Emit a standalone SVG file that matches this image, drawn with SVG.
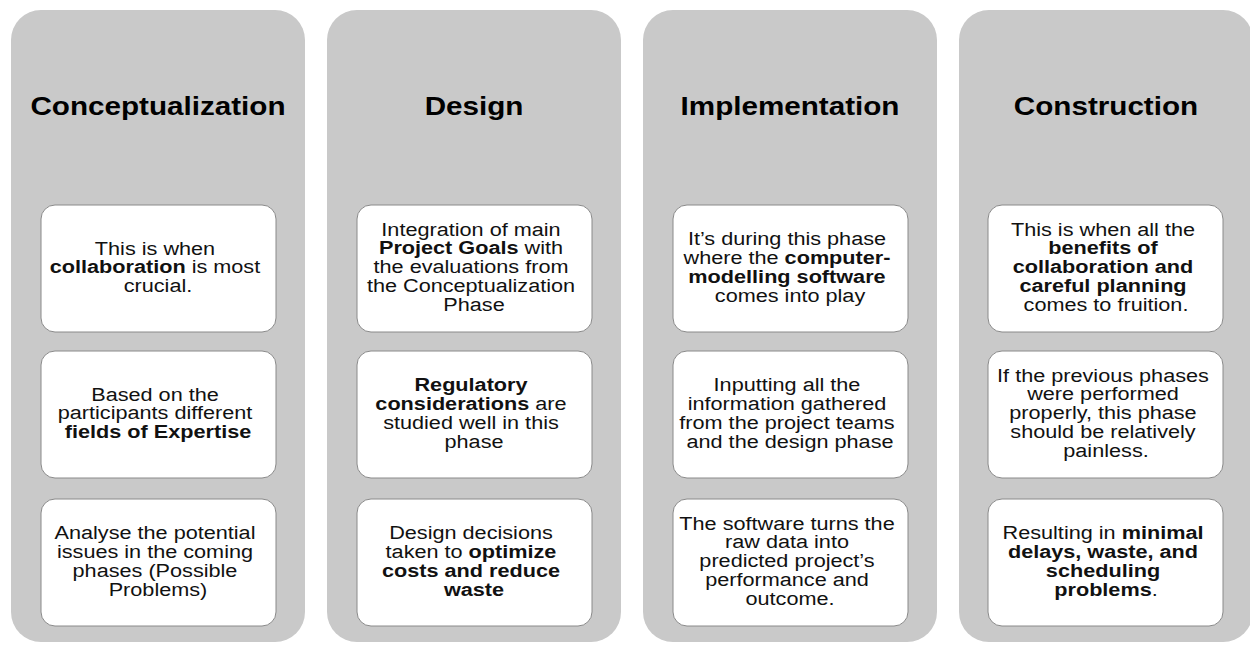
<svg xmlns="http://www.w3.org/2000/svg" width="1250" height="649" viewBox="0 0 1250 649">
  <style>
    .col { fill: #c9c9c9; }
    .card { fill: #ffffff; stroke: #8a8a8a; stroke-width: 1; }
    .title { font-family: "Liberation Sans", Arial, sans-serif; font-weight: bold; font-size: 26px; fill: #000; text-anchor: middle; }
    .body { font-family: "Liberation Sans", Arial, sans-serif; font-size: 19px; fill: #111; text-anchor: middle; }
    .b { font-weight: bold; }
  </style>
  <rect width="1250" height="649" fill="#ffffff"/>

  <!-- Phase 1 -->
  <g id="conceptualization">
    <rect class="col" x="11" y="10" width="294" height="632" rx="30"/>
    <text class="title" transform="translate(158,114.5) scale(1.14,1)">Conceptualization</text>
    <g id="conceptualization-1">
      <rect class="card" x="41" y="205" width="235" height="127" rx="14"/>
      <text class="body" transform="translate(158,254.5) scale(1.14,1)">
        <tspan x="0" dy="0">This is when</tspan>
        <tspan x="0" dy="19"><tspan class="b">collaboration</tspan> is most</tspan>
        <tspan x="0" dy="19">crucial.</tspan>
      </text>
    </g>
    <g id="conceptualization-2">
      <rect class="card" x="41" y="351" width="235" height="127" rx="14"/>
      <text class="body" transform="translate(158,400.5) scale(1.14,1)">
        <tspan x="0" dy="0">Based on the</tspan>
        <tspan x="0" dy="19">participants different</tspan>
        <tspan x="0" dy="19" class="b">fields of Expertise</tspan>
      </text>
    </g>
    <g id="conceptualization-3">
      <rect class="card" x="41" y="499" width="235" height="127" rx="14"/>
      <text class="body" transform="translate(158,539) scale(1.14,1)">
        <tspan x="0" dy="0">Analyse the potential</tspan>
        <tspan x="0" dy="19">issues in the coming</tspan>
        <tspan x="0" dy="19">phases (Possible</tspan>
        <tspan x="0" dy="19">Problems)</tspan>
      </text>
    </g>
  </g>

  <!-- Phase 2 -->
  <g id="design">
    <rect class="col" x="327" y="10" width="294" height="632" rx="30"/>
    <text class="title" transform="translate(474,114.5) scale(1.14,1)">Design</text>
    <g id="design-1">
      <rect class="card" x="357" y="205" width="235" height="127" rx="14"/>
      <text class="body" transform="translate(474,235.5) scale(1.14,1)">
        <tspan x="0" dy="0">Integration of main</tspan>
        <tspan x="0" dy="19"><tspan class="b">Project Goals</tspan> with</tspan>
        <tspan x="0" dy="19">the evaluations from</tspan>
        <tspan x="0" dy="19">the Conceptualization</tspan>
        <tspan x="0" dy="19">Phase</tspan>
      </text>
    </g>
    <g id="design-2">
      <rect class="card" x="357" y="351" width="235" height="127" rx="14"/>
      <text class="body" transform="translate(474,391) scale(1.14,1)">
        <tspan x="0" dy="0" class="b">Regulatory</tspan>
        <tspan x="0" dy="19"><tspan class="b">considerations</tspan> are</tspan>
        <tspan x="0" dy="19">studied well in this</tspan>
        <tspan x="0" dy="19">phase</tspan>
      </text>
    </g>
    <g id="design-3">
      <rect class="card" x="357" y="499" width="235" height="127" rx="14"/>
      <text class="body" transform="translate(474,539) scale(1.14,1)">
        <tspan x="0" dy="0">Design decisions</tspan>
        <tspan x="0" dy="19">taken to <tspan class="b">optimize</tspan></tspan>
        <tspan x="0" dy="19" class="b">costs and reduce</tspan>
        <tspan x="0" dy="19" class="b">waste</tspan>
      </text>
    </g>
  </g>

  <!-- Phase 3 -->
  <g id="implementation">
    <rect class="col" x="643" y="10" width="294" height="632" rx="30"/>
    <text class="title" transform="translate(790,114.5) scale(1.14,1)">Implementation</text>
    <g id="implementation-1">
      <rect class="card" x="673" y="205" width="235" height="127" rx="14"/>
      <text class="body" transform="translate(790,245) scale(1.14,1)">
        <tspan x="0" dy="0">It’s during this phase</tspan>
        <tspan x="0" dy="19">where the <tspan class="b">computer-</tspan></tspan>
        <tspan x="0" dy="19" class="b">modelling  software</tspan>
        <tspan x="0" dy="19">comes into play</tspan>
      </text>
    </g>
    <g id="implementation-2">
      <rect class="card" x="673" y="351" width="235" height="127" rx="14"/>
      <text class="body" transform="translate(790,391) scale(1.14,1)">
        <tspan x="0" dy="0">Inputting all the</tspan>
        <tspan x="0" dy="19">information gathered</tspan>
        <tspan x="0" dy="19">from the project teams</tspan>
        <tspan x="0" dy="19">and the design phase</tspan>
      </text>
    </g>
    <g id="implementation-3">
      <rect class="card" x="673" y="499" width="235" height="127" rx="14"/>
      <text class="body" transform="translate(790,529.5) scale(1.14,1)">
        <tspan x="0" dy="0">The software turns the</tspan>
        <tspan x="0" dy="19">raw data into</tspan>
        <tspan x="0" dy="19">predicted project’s</tspan>
        <tspan x="0" dy="19">performance and</tspan>
        <tspan x="0" dy="19">outcome.</tspan>
      </text>
    </g>
  </g>

  <!-- Phase 4 -->
  <g id="construction">
    <rect class="col" x="959" y="10" width="294" height="632" rx="30"/>
    <text class="title" transform="translate(1106,114.5) scale(1.14,1)">Construction</text>
    <g id="construction-1">
      <rect class="card" x="988" y="205" width="235" height="127" rx="14"/>
      <text class="body" transform="translate(1106,235.5) scale(1.14,1)">
        <tspan x="0" dy="0">This is when all the</tspan>
        <tspan x="0" dy="19" class="b">benefits of</tspan>
        <tspan x="0" dy="19" class="b">collaboration and</tspan>
        <tspan x="0" dy="19" class="b">careful planning</tspan>
        <tspan x="0" dy="19">comes to fruition.</tspan>
      </text>
    </g>
    <g id="construction-2">
      <rect class="card" x="988" y="351" width="235" height="127" rx="14"/>
      <text class="body" transform="translate(1106,381.5) scale(1.14,1)">
        <tspan x="0" dy="0">If the previous phases</tspan>
        <tspan x="0" dy="19">were performed</tspan>
        <tspan x="0" dy="19">properly, this phase</tspan>
        <tspan x="0" dy="19">should be relatively</tspan>
        <tspan x="0" dy="19">painless.</tspan>
      </text>
    </g>
    <g id="construction-3">
      <rect class="card" x="988" y="499" width="235" height="127" rx="14"/>
      <text class="body" transform="translate(1106,539) scale(1.14,1)">
        <tspan x="0" dy="0">Resulting in <tspan class="b">minimal</tspan></tspan>
        <tspan x="0" dy="19" class="b">delays, waste, and</tspan>
        <tspan x="0" dy="19" class="b">scheduling</tspan>
        <tspan x="0" dy="19"><tspan class="b">problems</tspan>.</tspan>
      </text>
    </g>
  </g>

  <!-- no connectors in this diagram -->
  <g id="connectors"/>
</svg>
